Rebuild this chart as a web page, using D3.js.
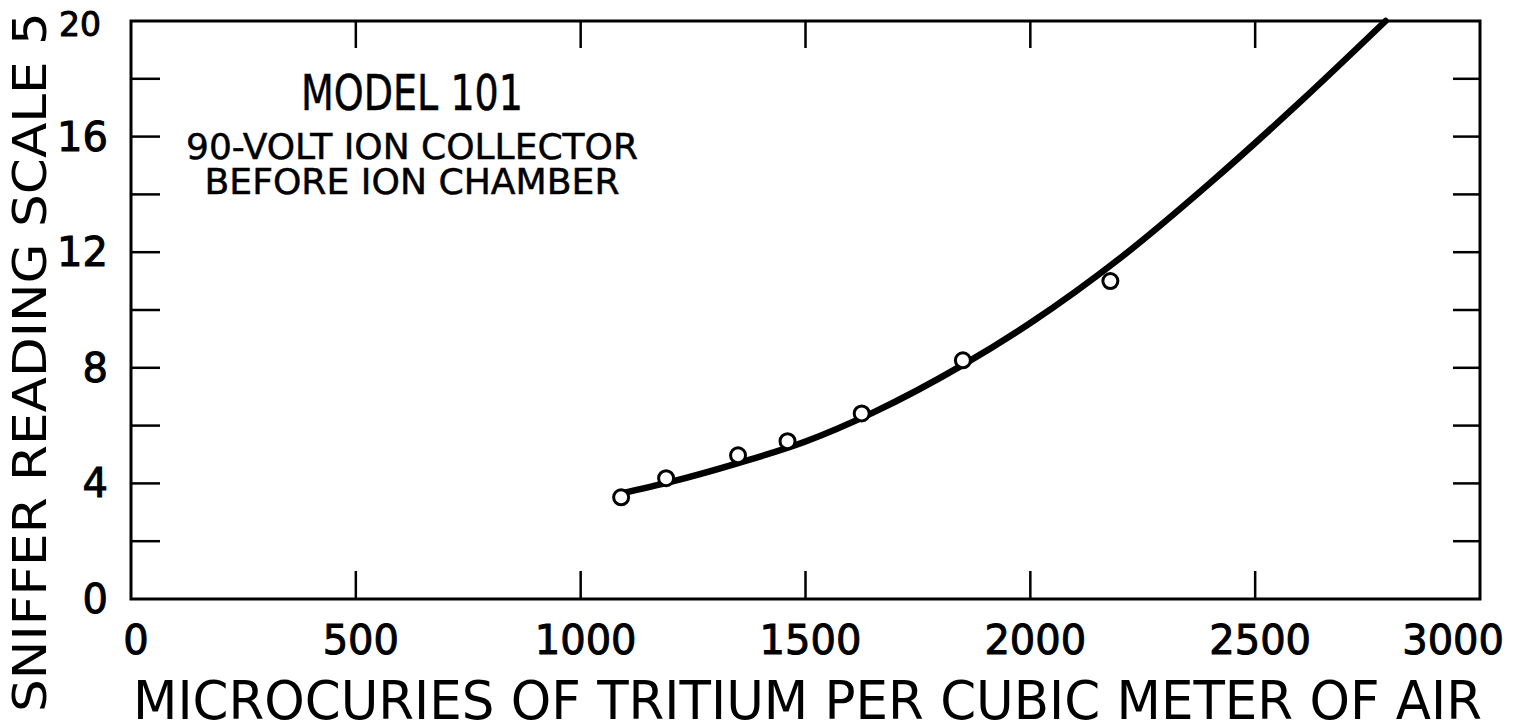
<!DOCTYPE html>
<html>
<head>
<meta charset="utf-8">
<script src="https://cdn.jsdelivr.net/npm/d3@7"></script>
<style>
  body { margin: 0; background: #fff; }
  svg text { font-family: "DejaVu Sans", sans-serif; fill: #000; }
</style>
</head>
<body>
<div id="chart"></div>
<script>
// —————————— DATA
var pointX = [1090, 1190, 1350, 1460, 1625, 1850, 2178];
var pointY = [3.52, 4.18, 4.97, 5.46, 6.42, 8.26, 11.0];

// the drawn calibration curve
var curveX = [1090, 1200, 1350, 1500, 1650, 1850, 2000, 2200, 2400, 2600, 2790];
var curveY = [3.65, 4.05, 4.7, 5.45, 6.45, 8.1, 9.55, 11.8, 14.4, 17.2, 20];

var xTicks = [0, 500, 1000, 1500, 2000, 2500, 3000];
var yTicks = [0, 4, 8, 12, 16, 20];
var yMinor = [2, 4, 6, 8, 10, 12, 14, 16, 18];

var noteLines = ["MODEL 101", "90-VOLT ION COLLECTOR", "BEFORE ION CHAMBER"];

// —————————— LAYOUT
var W = 1516, H = 727;
var m = {left: 131, right: 1480, top: 21, bottom: 599};

var svg = d3.select("#chart").append("svg")
    .attr("width", W)
    .attr("height", H);

var x = d3.scaleLinear().domain([0, 3000]).range([m.left, m.right]);
var y = d3.scaleLinear().domain([0, 20]).range([m.bottom, m.top]);

// frame
svg.append("rect")
    .attr("x", m.left).attr("y", m.top)
    .attr("width", m.right - m.left).attr("height", m.bottom - m.top)
    .attr("fill", "none").attr("stroke", "#000").attr("stroke-width", 3);

// inner ticks on all four sides
var inner = xTicks.slice(1, -1);
svg.append("g").selectAll("line").data(inner).enter().append("line")
    .attr("x1", d => x(d)).attr("x2", d => x(d))
    .attr("y1", m.bottom).attr("y2", m.bottom - 28)
    .attr("stroke", "#000").attr("stroke-width", 2.5);
svg.append("g").selectAll("line").data(inner).enter().append("line")
    .attr("x1", d => x(d)).attr("x2", d => x(d))
    .attr("y1", m.top).attr("y2", m.top + 27)
    .attr("stroke", "#000").attr("stroke-width", 2.5);
svg.append("g").selectAll("line").data(yMinor).enter().append("line")
    .attr("x1", m.left).attr("x2", m.left + 29)
    .attr("y1", d => y(d)).attr("y2", d => y(d))
    .attr("stroke", "#000").attr("stroke-width", 2.5);
svg.append("g").selectAll("line").data(yMinor).enter().append("line")
    .attr("x1", m.right).attr("x2", m.right - 27)
    .attr("y1", d => y(d)).attr("y2", d => y(d))
    .attr("stroke", "#000").attr("stroke-width", 2.5);

// tick labels
svg.append("g").selectAll("text").data(xTicks).enter().append("text")
    .attr("x", d => d === 3000 ? W - 12 : x(d) + 5)
    .attr("y", 654)
    .attr("text-anchor", d => d === 3000 ? "end" : "middle")
    .style("font-size", "40px")
    .style("stroke", "#000").style("stroke-width", 1)
    .text(d => d);

// the top label "20" sits a little higher and smaller, tucked under the frame corner
svg.append("g").selectAll("text").data(yTicks).enter().append("text")
    .attr("x", d => d === 20 ? 101 : 108)
    .attr("y", d => d === 20 ? 36 : y(d) + 14)
    .attr("text-anchor", "end")
    .style("font-size", d => d === 20 ? "33px" : "40px")
    .style("stroke", "#000").style("stroke-width", 1)
    .text(d => d);

// axis titles
svg.append("text")
    .attr("x", 133).attr("y", 719)
    .attr("textLength", 1349)
    .attr("lengthAdjust", "spacingAndGlyphs")
    .style("font-size", "54px")
    .text("MICROCURIES OF TRITIUM PER CUBIC METER OF AIR");

svg.append("text")
    .attr("transform", "translate(46,712) rotate(-90)")
    .attr("textLength", 700)
    .attr("lengthAdjust", "spacingAndGlyphs")
    .style("font-size", "46px")
    .text("SNIFFER READING SCALE 5");

// note in the upper left
var noteBase = [110, 159, 194];
var noteSize = [50, 36, 36];
var noteLen = [222, 452, 415];
svg.append("g").selectAll("text").data(noteLines).enter().append("text")
    .attr("x", 412)
    .attr("y", (d, i) => noteBase[i])
    .attr("text-anchor", "middle")
    .attr("textLength", (d, i) => noteLen[i])
    .attr("lengthAdjust", "spacingAndGlyphs")
    .style("font-size", (d, i) => noteSize[i] + "px")
    .style("stroke", "#000").style("stroke-width", 0.5)
    .text(d => d);

// curve
var curveData = curveX.map((d, i) => [d, curveY[i]]);
var line = d3.line()
    .x(d => x(d[0]))
    .y(d => y(d[1]))
    .curve(d3.curveMonotoneX);

svg.append("path")
    .datum(curveData)
    .attr("d", line)
    .attr("fill", "none")
    .attr("stroke", "#000")
    .attr("stroke-width", 6.5)
    .attr("stroke-linecap", "round");

// measured points
svg.append("g").selectAll("circle").data(pointX).enter().append("circle")
    .attr("cx", d => x(d))
    .attr("cy", (d, i) => y(pointY[i]))
    .attr("r", 7.5)
    .attr("fill", "#fff")
    .attr("stroke", "#000")
    .attr("stroke-width", 3);
</script>
</body>
</html>
